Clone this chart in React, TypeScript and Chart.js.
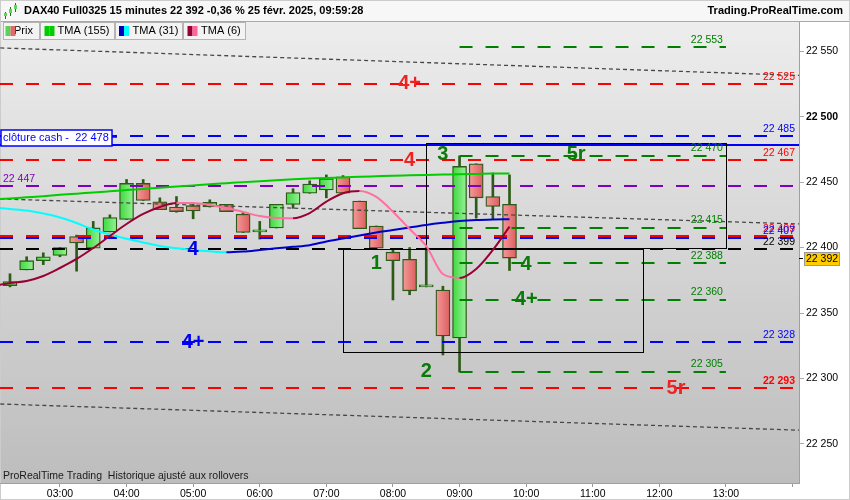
import React, { useEffect, useRef } from 'react';
import { Chart, registerables } from 'chart.js';

Chart.register(...registerables);

// ---- 15-minute candles ----
const candleTimes = ['02:15', '02:30', '02:45', '03:00', '03:15', '03:30', '03:45', '04:00', '04:15', '04:30', '04:45', '05:00', '05:15', '05:30', '05:45', '06:00', '06:15', '06:30', '06:45', '07:00', '07:15', '07:30', '07:45', '08:00', '08:15', '08:30', '08:45', '09:00', '09:15', '09:30', '09:45'];
const opens = [22371, 22383, 22390, 22394, 22408.5, 22399.5, 22412, 22421.5, 22449, 22435, 22431, 22432, 22431, 22433, 22425.5, 22412, 22415, 22433, 22441.5, 22444, 22454, 22435.5, 22416.5, 22396.5, 22391, 22370, 22367.5, 22331, 22464, 22439, 22433];
const highs = [22380, 22393, 22396, 22400, 22409.5, 22420, 22425, 22452, 22452, 22438, 22439, 22433, 22436.5, 22433, 22427, 22420, 22433, 22445, 22451, 22455.5, 22455, 22435.5, 22416.5, 22398, 22400, 22400, 22370.5, 22470, 22464, 22457, 22455.5];
const lows = [22370, 22383, 22387, 22393, 22382, 22399.5, 22412, 22421.5, 22436, 22429, 22427, 22422, 22431, 22427.5, 22411.5, 22406.5, 22415, 22430, 22441.5, 22438, 22441.5, 22414.5, 22399, 22360, 22364, 22370, 22318, 22305, 22422.5, 22421.5, 22382.5];
const closes = [22374, 22390, 22393, 22400, 22403.5, 22415, 22423, 22449, 22436, 22429, 22427.5, 22428, 22434.5, 22427.5, 22411.5, 22412, 22433, 22442, 22448.5, 22452.5, 22441.5, 22414.5, 22399.5, 22390, 22367, 22370, 22332.5, 22462, 22438, 22431.5, 22392];

// ---- moving averages ----
const maTimes = ['02:00', '02:15', '02:30', '02:45', '03:00', '03:15', '03:30', '03:45', '04:00', '04:15', '04:30', '04:45', '05:00', '05:15', '05:30', '05:45', '06:00', '06:15', '06:30', '06:45', '07:00', '07:15', '07:30', '07:45', '08:00', '08:15', '08:30', '08:45', '09:00', '09:15', '09:30', '09:45'];
const tma155 = [22436.8, 22437.5, 22438.4, 22439.3, 22440.3, 22441.2, 22442.1, 22443.0, 22443.9, 22444.8, 22445.7, 22446.6, 22447.5, 22448.4, 22449.2, 22450.0, 22450.7, 22451.5, 22452.2, 22452.7, 22453.2, 22453.6, 22454.1, 22454.5, 22454.9, 22455.2, 22455.5, 22455.8, 22456.1, 22456.3, 22456.5, 22456.6];
const tma31 = [22430.6, 22429.5, 22428.3, 22426.0, 22423.0, 22418.8, 22413.8, 22410.0, 22406.7, 22403.9, 22401.2, 22399.5, 22398.2, 22397.2, 22396.4, 22397.0, 22398.2, 22399.5, 22400.6, 22401.8, 22404.7, 22407.0, 22409.2, 22411.5, 22413.4, 22415.4, 22417.3, 22418.9, 22420.3, 22421.1, 22421.5, 22421.7];
const tma6 = [22370.5, 22373.0, 22374.5, 22378.3, 22384.4, 22391.3, 22399.7, 22408.9, 22418.0, 22425.7, 22431.0, 22434.1, 22434.0, 22432.5, 22430.3, 22427.2, 22424.1, 22422.6, 22422.4, 22426.4, 22435.1, 22441.5, 22443.2, 22438.7, 22427.4, 22414.2, 22401.2, 22379.8, 22376.8, 22383.7, 22398.2, 22416.0];

// ---- axes ----
const hourTicks = ['03:00', '04:00', '05:00', '06:00', '07:00', '08:00', '09:00', '10:00', '11:00', '12:00', '13:00', '14:00'];
const hourLabels = ['03:00', '04:00', '05:00', '06:00', '07:00', '08:00', '09:00', '10:00', '11:00', '12:00', '13:00', ''];
const priceTicks = [22250, 22300, 22350, 22400, 22450, 22500, 22550];

// ---- horizontal levels across the whole chart ----
const levelValues = [22525, 22485, 22467, 22447, 22409, 22407, 22399, 22328, 22293];
const levelColors = ['#ff0000', '#0000ff', '#ff0000', '#7f00bf', '#ff0000', '#0000ff', '#000000', '#0000ff', '#ff0000'];
const levelLabelSide = ['right', 'right', 'right', 'left', 'right', 'right', 'right', 'right', 'right'];
const levelLabelBold = [false, false, false, false, false, false, false, false, true];

const cashClose = 22478;
const cashLabel = 'clôture cash -  22 478';

// ---- green projection levels ----
const pivotValues = [22553, 22470, 22415, 22388, 22360, 22305];
const pivotStart = '09:00';
const pivotEnd = '13:00';

// ---- boxes ----
const boxStarts = ['07:15', '08:30'];
const boxEnds = ['11:45', '13:00'];
const boxTops = [22399, 22480];
const boxBottoms = [22320, 22400];

// ---- sloping trend lines ----
const trendStarts = ['02:00', '02:00', '02:00'];
const trendEnds = ['14:15', '14:15', '14:15'];
const trendFrom = [22552.7, 22437.3, 22280.7];
const trendTo = [22531.2, 22417.8, 22260.3];

// ---- wave markers ----
const markTexts = ['4+', '4', '4', '4+', '1', '2', '3', '5r', '4', '4+', '5r'];
const markTimes = ['08:15', '08:15', '05:00', '05:00', '07:45', '08:30', '08:45', '10:45', '10:00', '10:00', '12:15'];
const markValues = [22526, 22467, 22399, 22328, 22389, 22306, 22472, 22472, 22388, 22361, 22293];
const markColors = ['#ee2222', '#ee2222', '#0000ee', '#0000ee', '#0a7a0a', '#0a7a0a', '#0a7a0a', '#0a7a0a', '#0a7a0a', '#0a7a0a', '#ee2222'];

const FONT = "'Liberation Sans', Arial, sans-serif";
const WICK = '#2d5a16';

const toMin = (s: string) => {
  const [h, m] = s.split(':').map(Number);
  return h * 60 + m;
};
const fmtPrice = (v: number) => {
  const r = Math.round(v);
  return `${Math.floor(r / 1000)} ${String(r % 1000).padStart(3, '0')}`;
};

const decorations = {
  id: 'decorations',
  beforeDraw(chart: any) {
    const { ctx, chartArea: a, width, height } = chart;
    ctx.save();
    ctx.fillStyle = '#ffffff';
    ctx.fillRect(0, 0, width, height);
    ctx.fillStyle = '#f7f7f7';
    ctx.fillRect(0, 0, width, a.top);
    const g = ctx.createLinearGradient(0, a.top, 0, a.bottom);
    g.addColorStop(0, '#ededed');
    g.addColorStop(1, '#bdbdbd');
    ctx.fillStyle = g;
    ctx.fillRect(a.left, a.top, a.right - a.left, a.bottom - a.top);
    ctx.strokeStyle = '#a8a8a8';
    ctx.lineWidth = 1;
    ctx.beginPath();
    ctx.moveTo(0, a.top - 0.5);
    ctx.lineTo(width, a.top - 0.5);
    ctx.moveTo(0.5, a.top);
    ctx.lineTo(0.5, a.bottom);
    ctx.stroke();
    ctx.strokeStyle = '#cccccc';
    ctx.strokeRect(0.5, 0.5, width - 1, height - 1);
    ctx.restore();
  },
  afterDatasetDraw(chart: any, args: any) {
    if (args.index !== 1) return;
    const { ctx, chartArea: a } = chart;
    const xs = chart.scales.x;
    const ys = chart.scales.y;
    const px = (t: string) => xs.getPixelForValue(toMin(t));
    const py = (v: number) => ys.getPixelForValue(v);
    ctx.save();
    ctx.beginPath();
    ctx.rect(a.left, a.top, a.right - a.left, a.bottom - a.top);
    ctx.clip();

    // trend lines
    ctx.setLineDash([4, 3]);
    ctx.strokeStyle = '#474747';
    ctx.lineWidth = 1.3;
    trendFrom.forEach((v, i) => {
      ctx.beginPath();
      ctx.moveTo(px(trendStarts[i]), py(v));
      ctx.lineTo(px(trendEnds[i]), py(trendTo[i]));
      ctx.stroke();
    });

    // horizontal levels
    ctx.setLineDash([13, 13]);
    ctx.lineWidth = 2;
    levelValues.forEach((v, i) => {
      const y = Math.round(py(v));
      ctx.strokeStyle = levelColors[i];
      ctx.beginPath();
      ctx.moveTo(a.left, y);
      ctx.lineTo(a.right, y);
      ctx.stroke();
    });

    // cash close
    ctx.setLineDash([]);
    ctx.strokeStyle = '#0000ff';
    ctx.beginPath();
    const yc = Math.round(py(cashClose));
    ctx.moveTo(a.left, yc);
    ctx.lineTo(a.right, yc);
    ctx.stroke();

    // green projections
    ctx.setLineDash([13, 13]);
    ctx.strokeStyle = '#008000';
    pivotValues.forEach((v) => {
      const y = Math.round(py(v));
      ctx.beginPath();
      ctx.moveTo(px(pivotStart), y);
      ctx.lineTo(px(pivotEnd), y);
      ctx.stroke();
    });

    // boxes
    ctx.setLineDash([]);
    ctx.strokeStyle = '#000000';
    ctx.lineWidth = 1;
    boxStarts.forEach((s, i) => {
      const x0 = Math.round(px(s)) + 0.5;
      const x1 = Math.round(px(boxEnds[i])) + 0.5;
      const y0 = Math.round(py(boxTops[i])) + 0.5;
      const y1 = Math.round(py(boxBottoms[i])) + 0.5;
      ctx.strokeRect(x0, y0, x1 - x0, y1 - y0);
    });
    ctx.restore();
  },
  afterDatasetsDraw(chart: any) {
    const { ctx, chartArea: a } = chart;
    const xs = chart.scales.x;
    const ys = chart.scales.y;
    const px = (t: string) => xs.getPixelForValue(toMin(t));
    const py = (v: number) => ys.getPixelForValue(v);
    ctx.save();
    ctx.textBaseline = 'middle';

    // level labels
    levelValues.forEach((v, i) => {
      ctx.fillStyle = levelColors[i];
      ctx.font = `${levelLabelBold[i] ? 'bold ' : ''}10.5px ${FONT}`;
      const y = py(v) - 7;
      if (levelLabelSide[i] === 'left') {
        ctx.textAlign = 'left';
        ctx.fillText(fmtPrice(v), a.left + 3, y);
      } else {
        ctx.textAlign = 'right';
        ctx.fillText(fmtPrice(v), a.right - 4, y);
      }
    });

    // green projection labels
    ctx.font = `10.5px ${FONT}`;
    ctx.fillStyle = '#008000';
    ctx.textAlign = 'right';
    pivotValues.forEach((v) => {
      ctx.fillText(fmtPrice(v), px(pivotEnd) - 3, py(v) - 7.5);
    });

    // cash close label
    const yc = Math.round(py(cashClose));
    ctx.fillStyle = '#ffffff';
    ctx.fillRect(1, yc - 15, 111, 16);
    ctx.strokeStyle = '#0000ff';
    ctx.lineWidth = 1.5;
    ctx.strokeRect(1, yc - 15, 111, 16);
    ctx.beginPath();
    ctx.moveTo(112, yc - 8);
    ctx.lineTo(117, yc - 8);
    ctx.stroke();
    ctx.fillStyle = '#0000ff';
    ctx.font = `11px ${FONT}`;
    ctx.textAlign = 'left';
    ctx.fillText(cashLabel, 3, yc - 7);

    // wave markers
    ctx.font = `bold 20px ${FONT}`;
    ctx.textAlign = 'center';
    markTexts.forEach((t, i) => {
      ctx.fillStyle = markColors[i];
      ctx.fillText(t, px(markTimes[i]), py(markValues[i]) + 1);
    });

    // footer note
    ctx.fillStyle = '#1a1a1a';
    ctx.font = `10.5px ${FONT}`;
    ctx.textAlign = 'left';
    ctx.fillText('ProRealTime Trading  Historique ajusté aux rollovers', a.left + 3, a.bottom - 7);
    ctx.restore();
  },
  afterDraw(chart: any) {
    const { ctx, chartArea: a, width } = chart;
    const ys = chart.scales.y;
    ctx.save();
    ctx.textBaseline = 'middle';

    // title bar
    ctx.fillStyle = '#000';
    ctx.font = `bold 11px ${FONT}`;
    ctx.textAlign = 'left';
    ctx.fillText('DAX40 Full0325 15 minutes 22 392 -0,36 % 25 févr. 2025, 09:59:28', 24, 11);
    ctx.textAlign = 'right';
    ctx.fillText('Trading.ProRealTime.com', width - 7, 11);

    // small candle icon
    const icon = [[5, 12, 17, 13, 16], [10, 7, 14, 9, 13], [15, 3, 10, 5, 9]];
    icon.forEach(([x, hi, lo, bt, bb]) => {
      ctx.strokeStyle = '#2d6a16';
      ctx.lineWidth = 1;
      ctx.beginPath();
      ctx.moveTo(x + 0.5, hi);
      ctx.lineTo(x + 0.5, lo + 2);
      ctx.stroke();
      ctx.fillStyle = '#5ad85a';
      ctx.fillRect(x - 1, bt, 3, bb - bt);
    });

    // legend cells
    const cells = [
      { x: 3, w: 36, text: 'Prix', sw: ['#5ad25a', '#e06a6a'], sx: 5.5, tx: 14 },
      { x: 40, w: 74, text: 'TMA (155)', sw: ['#00cc00', '#00cc00'], sx: 44.5, tx: 57.5 },
      { x: 115, w: 67, text: 'TMA (31)', sw: ['#0000c0', '#00ffff'], sx: 119, tx: 132.5 },
      { x: 183, w: 62, text: 'TMA (6)', sw: ['#990033', '#ff6699'], sx: 187.5, tx: 201 },
    ];
    cells.forEach((c) => {
      ctx.fillStyle = '#f3f3f3';
      ctx.fillRect(c.x, a.top, c.w, 17);
      ctx.strokeStyle = '#b4b4b4';
      ctx.lineWidth = 1;
      ctx.strokeRect(c.x + 0.5, a.top + 0.5, c.w, 17);
      ctx.fillStyle = '#000';
      ctx.font = `11px ${FONT}`;
      ctx.textAlign = 'left';
      ctx.fillText(c.text, c.tx, a.top + 9);
      ctx.fillStyle = c.sw[0];
      ctx.fillRect(c.sx, a.top + 4, 5, 10);
      ctx.fillStyle = c.sw[1];
      ctx.fillRect(c.sx + 5, a.top + 4, 5, 10);
    });

    // last price tag
    const last = closes[closes.length - 1];
    const yp = Math.round(ys.getPixelForValue(last));
    ctx.strokeStyle = '#000';
    ctx.lineWidth = 1;
    ctx.beginPath();
    ctx.moveTo(a.right, yp + 0.5);
    ctx.lineTo(a.right + 4, yp + 0.5);
    ctx.stroke();
    ctx.fillStyle = '#ffcc00';
    ctx.fillRect(a.right + 5, yp - 6, 36, 14);
    ctx.strokeStyle = '#9a9a9a';
    ctx.strokeRect(a.right + 5.5, yp - 5.5, 35, 13);
    ctx.fillStyle = '#000';
    ctx.font = `10.5px ${FONT}`;
    ctx.textAlign = 'left';
    ctx.fillText(fmtPrice(last), a.right + 7, yp + 1.5);
    ctx.restore();
  },
};

export default function App() {
  const ref = useRef<HTMLCanvasElement | null>(null);

  useEffect(() => {
    document.body.style.margin = '0';
    const canvas = ref.current;
    if (!canvas) return;

    const bodyFill = (c: any) => {
      const i = c.dataIndex;
      const up = i !== undefined && closes[i] >= opens[i];
      const solid = up ? '#6ae46a' : '#ea7272';
      const xs = c.chart.scales?.x;
      if (!xs || i === undefined) return solid;
      const cx = xs.getPixelForValue(toMin(candleTimes[i]));
      if (!Number.isFinite(cx)) return solid;
      const g = c.chart.ctx.createLinearGradient(cx - 7, 0, cx + 7, 0);
      if (up) {
        g.addColorStop(0, '#3fd83f');
        g.addColorStop(1, '#96f296');
      } else {
        g.addColorStop(0, '#f59a9a');
        g.addColorStop(1, '#dc5e5e');
      }
      return g;
    };

    const slopeColor = (rise: string, fall: string) => (c: any) =>
      c.p1.parsed.y >= c.p0.parsed.y ? rise : fall;

    const maData = (vals: number[]) => vals.map((v, i) => ({ x: toMin(maTimes[i]), y: v }));

    const chart = new Chart(canvas, {
      type: 'bar',
      data: {
        datasets: [
          {
            type: 'bar',
            label: 'wicks',
            data: candleTimes.map((t, i) => ({ x: toMin(t), y: [lows[i], highs[i]] })) as any,
            backgroundColor: WICK,
            borderWidth: 0,
            barThickness: 2,
            grouped: false,
            order: 6,
          } as any,
          {
            type: 'bar',
            label: 'Prix',
            data: candleTimes.map((t, i) => ({ x: toMin(t), y: [opens[i], closes[i]] })) as any,
            backgroundColor: bodyFill,
            borderColor: WICK,
            borderWidth: 1.3,
            borderSkipped: false,
            barThickness: 14,
            minBarLength: 2,
            grouped: false,
            order: 5,
          } as any,
          {
            type: 'line',
            label: 'TMA (155)',
            data: maData(tma155),
            borderColor: '#00cc00',
            borderWidth: 2,
            pointRadius: 0,
            cubicInterpolationMode: 'monotone',
            order: 3,
          } as any,
          {
            type: 'line',
            label: 'TMA (31)',
            data: maData(tma31),
            borderColor: '#0000cc',
            borderWidth: 2,
            pointRadius: 0,
            cubicInterpolationMode: 'monotone',
            segment: { borderColor: slopeColor('#0000cc', '#00ffff') },
            order: 2,
          } as any,
          {
            type: 'line',
            label: 'TMA (6)',
            data: maData(tma6),
            borderColor: '#990033',
            borderWidth: 2,
            pointRadius: 0,
            cubicInterpolationMode: 'monotone',
            segment: { borderColor: slopeColor('#990033', '#ff6f9f') },
            order: 1,
          } as any,
        ],
      },
      options: {
        responsive: false,
        maintainAspectRatio: false,
        animation: false,
        layout: { padding: { top: 22, left: 0, right: 0, bottom: 0 } },
        plugins: { legend: { display: false }, tooltip: { enabled: false } },
        scales: {
          x: {
            type: 'linear',
            min: 126,
            max: 845.8,
            offset: false,
            afterFit: (s: any) => {
              s.height = 17;
            },
            afterBuildTicks: (s: any) => {
              s.ticks = hourTicks.map((t) => ({ value: toMin(t) }));
            },
            ticks: {
              autoSkip: false,
              maxRotation: 0,
              padding: 1,
              color: '#000',
              font: { family: FONT, size: 10.5 },
              callback: (v: any) => {
                const i = hourTicks.findIndex((t) => toMin(t) === v);
                return i >= 0 ? hourLabels[i] : '';
              },
            },
            grid: { drawOnChartArea: false, offset: false, tickLength: 4, color: '#999' },
            border: { color: '#a0a0a0' },
          },
          y: {
            position: 'right',
            min: 22220.2,
            max: 22572.3,
            afterFit: (s: any) => {
              s.width = 51;
            },
            afterBuildTicks: (s: any) => {
              s.ticks = priceTicks.map((v) => ({ value: v }));
            },
            ticks: {
              padding: 2,
              color: '#000',
              font: (c: any) => ({
                family: FONT,
                size: 10.5,
                weight: c.tick && c.tick.value === 22500 ? 'bold' : 'normal',
              }),
              callback: (v: any) => fmtPrice(Number(v)),
            },
            grid: { drawOnChartArea: false, tickLength: 5, color: '#aaa' },
            border: { color: '#a0a0a0' },
          },
        },
      } as any,
      plugins: [decorations],
    });

    return () => chart.destroy();
  }, []);

  return (
    <div style={{ width: 850, height: 500 }}>
      <canvas ref={ref} width={850} height={500} style={{ display: 'block' }} />
    </div>
  );
}
